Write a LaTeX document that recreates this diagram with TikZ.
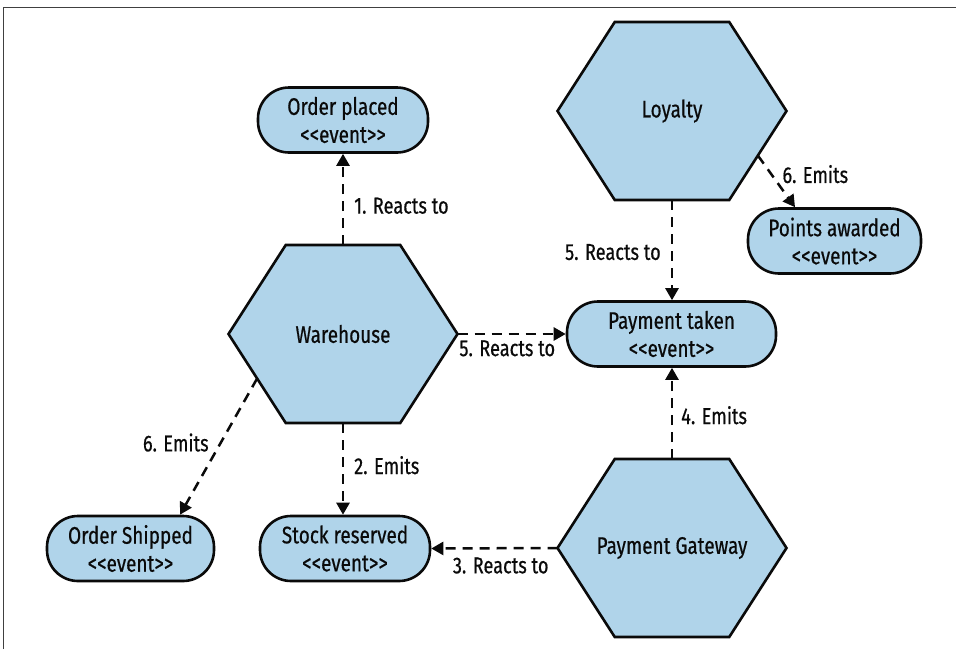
\documentclass[tikz,border=0pt]{standalone}
\usepackage{fontspec}
\setmainfont[FakeStretch=0.79, FakeBold=0.5]{Fira Sans}
\usetikzlibrary{calc,arrows.meta,backgrounds}
\definecolor{hexfill}{RGB}{176,212,234}
\definecolor{inkc}{RGB}{10,10,10}
\tikzset{
  hexbox/.style={minimum width=229pt, minimum height=178pt, inner sep=0pt, outer sep=0pt, text=inkc},
  hexline/.style={fill=hexfill, draw=inkc, line width=2.6pt, line join=miter},
  eventbox/.style={draw=inkc, fill=hexfill, line width=2.6pt, rounded corners=31pt,
    minimum height=65pt, inner sep=0pt, outer sep=1.3pt, align=center, text=inkc},
  conn/.style={draw=inkc, line width=2.5pt, dash pattern=on 10pt off 7pt,
    -{Triangle[width=13pt,length=12pt]}},
  lbl/.style={text=inkc, inner sep=0pt, font=\fontsize{23}{27}\selectfont},
  frameline/.style={draw=black!75, line width=1pt},
}
\newcommand\hexnode[3]{%
  \node[hexbox] (#1) at #2 {#3};
  \begin{scope}[on background layer]
    \filldraw[hexline] (#1.west) -- ($(#1.north west)!0.25!(#1.north east)$)
      -- ($(#1.north west)!0.75!(#1.north east)$) -- (#1.east)
      -- ($(#1.south west)!0.75!(#1.south east)$)
      -- ($(#1.south west)!0.25!(#1.south east)$) -- cycle;
  \end{scope}}
\begin{document}
\begin{tikzpicture}[x=1pt, y=-1pt, font=\fontsize{24}{28}\selectfont]
\useasboundingbox (0,0) rectangle (956,649);
\begin{scope}[on background layer]
  \fill[white] (0,0) rectangle (956,649);
\end{scope}
\coordinate (fbl) at (3,649);
\coordinate (ftl) at (3,7);
\coordinate (ftr) at (956,7);
\draw[frameline] (fbl) -- (ftl) -- (ftr);

% hexagons
\hexnode{wh}{(343,334)}{Warehouse}
\hexnode{lo}{(672,111)}{Loyalty}
\hexnode{pg}{(672,548)}{Payment Gateway}

% events
\node[eventbox, minimum width=170pt] (op) at (343,120) {Order placed\\<{}<event>{}>};
\node[eventbox, minimum width=173pt] (pa) at (834.5,241) {Points awarded\\<{}<event>{}>};
\node[eventbox, minimum width=209pt] (pt) at (671.5,334) {Payment taken\\<{}<event>{}>};
\node[eventbox, minimum width=167pt] (os) at (130.5,548.5) {Order Shipped\\<{}<event>{}>};
\node[eventbox, minimum width=170pt] (sr) at (345,548.5) {Stock reserved\\<{}<event>{}>};

% helper points
\coordinate (whSW) at ($(wh.west)!0.5!($(wh.south west)!0.25!(wh.south east)$)$);
\coordinate (loSE) at ($(lo.east)!0.5!($(lo.south west)!0.75!(lo.south east)$)$);
\coordinate (osIn) at ($(os.north)+(49.5,0)$);
\coordinate (paIn) at ($(pa.north)+(-39.5,0)$);

% connectors
\draw[conn] (wh.north) -- (op.south) node[lbl, pos=0.43, right=10pt] {1. Reacts to};
\draw[conn] (wh.south) -- (wh.south |- sr.north) node[lbl, pos=0.46, right=10pt] {2. Emits};
\draw[conn] (pg.west) -- (sr.east) node[lbl, pos=0.45, below=8pt] {3. Reacts to};
\draw[conn] (pg.north) -- (pt.south -| pg.north) node[lbl, pos=0.48, right=8pt] {4. Emits};
\draw[conn] (wh.east) -- (pt.west) node[lbl, pos=0.46, below=5pt] {5. Reacts to};
\draw[conn] (lo.south) -- (pt.north -| lo.south) node[lbl, pos=0.52, left=10pt] {5. Reacts to};
\draw[conn] (loSE) -- (paIn) node[lbl, pos=0.36, right=10pt] {6. Emits};
\draw[conn] (whSW) -- (osIn) node[lbl, pos=0.47, left=11pt] {6. Emits};
\end{tikzpicture}
\end{document}
